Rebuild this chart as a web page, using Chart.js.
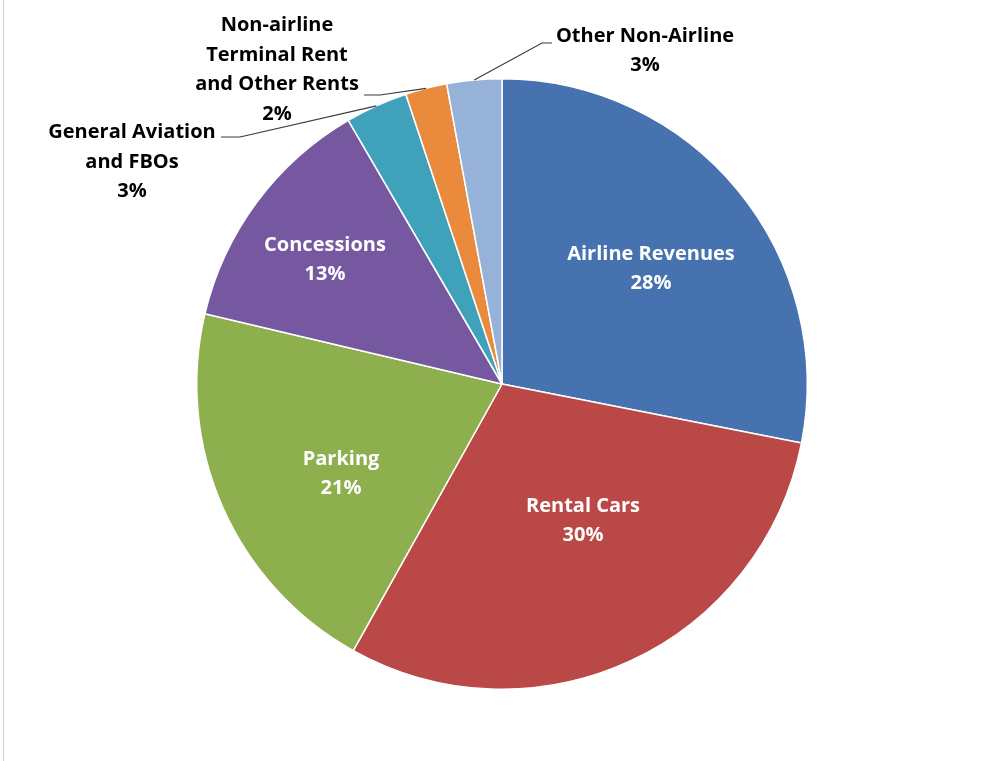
<!DOCTYPE html>
<html>
<head>
<meta charset="utf-8">
<script src="https://cdn.jsdelivr.net/npm/chart.js@4"></script>
<style>
  html, body { margin: 0; padding: 0; background: #ffffff; }
  #wrap { position: relative; width: 998px; height: 761px; }
  #frame { position: absolute; left: 3px; top: 0; width: 0; height: 761px; border-left: 1px solid #cfcfcf; }
  canvas { position: absolute; left: 0; top: 0; }
</style>
</head>
<body>
<div id="wrap">
<canvas id="c" width="998" height="761"></canvas>
<div id="frame"></div>
</div>
<script>
// ---- data ----
const categories = [
  "Airline Revenues",
  "Rental Cars",
  "Parking",
  "Concessions",
  "General Aviation and FBOs",
  "Non-airline Terminal Rent and Other Rents",
  "Other Non-Airline"
];
const shares = [28.1, 30.0, 20.6, 12.9, 3.3, 2.2, 2.9];
const labelLines = [
  ["Airline Revenues"],
  ["Rental Cars"],
  ["Parking"],
  ["Concessions"],
  ["General Aviation", "and FBOs"],
  ["Non-airline", "Terminal Rent", "and Other Rents"],
  ["Other Non-Airline"]
];
const sliceColors = ["#4672B0", "#BA4846", "#8EAF4E", "#7558A0", "#3FA2BA", "#E98A3C", "#97B2D9"];

// ---- label layout (text placement only, offsets from pie centre) ----
const labelLayout = [
  { inside: true,  x: 149,  y: -115, color: "#ffffff" },
  { inside: true,  x: 81,   y: 137,  color: "#ffffff" },
  { inside: true,  x: -161, y: 90,   color: "#ffffff" },
  { inside: true,  x: -177, y: -124, color: "#ffffff" },
  { inside: false, x: -370, y: -222, color: "#000000", elbowX: -262, elbowY: -247, tail: -19 },
  { inside: false, x: -225, y: -314, color: "#000000", elbowX: -122, elbowY: -289, tail: -16 },
  { inside: false, x: 143,  y: -333, color: "#000000", elbowX: 40,   elbowY: -341, tail: 10 }
];

const FONT = "bold 20px 'Open Sans', 'Liberation Sans', sans-serif";
const LINE_H = 29.5;

const labelPlugin = {
  id: "pieLabels",
  afterDatasetsDraw(chart) {
    const ctx = chart.ctx;
    const meta = chart.getDatasetMeta(0);
    const total = shares.reduce((a, b) => a + b, 0);
    ctx.save();
    ctx.font = FONT;
    ctx.textAlign = "center";
    ctx.textBaseline = "middle";
    meta.data.forEach((arc, i) => {
      const p = arc.getProps(["x", "y", "startAngle", "endAngle", "outerRadius"], true);
      const L = labelLayout[i];
      const pct = Math.round(shares[i] / total * 100) + "%";
      const lines = labelLines[i].concat([pct]);
      const cx = p.x + L.x, cy = p.y + L.y;
      if (!L.inside) {
        const mid = (p.startAngle + p.endAngle) / 2;
        const ex = p.x + Math.cos(mid) * p.outerRadius;
        const ey = p.y + Math.sin(mid) * p.outerRadius;
        ctx.strokeStyle = "#3a3a3a";
        ctx.lineWidth = 1.2;
        ctx.beginPath();
        const elx = p.x + L.elbowX, ely = p.y + L.elbowY;
        ctx.moveTo(ex, ey);
        ctx.lineTo(elx, ely);
        ctx.lineTo(elx + L.tail, ely);
        ctx.stroke();
      }
      ctx.fillStyle = L.color;
      const top = cy - (lines.length - 1) * LINE_H / 2;
      lines.forEach((t, k) => ctx.fillText(t, cx, top + k * LINE_H));
    });
    ctx.restore();
  }
};

new Chart(document.getElementById("c"), {
  type: "pie",
  data: {
    labels: categories,
    datasets: [{
      data: shares,
      backgroundColor: sliceColors,
      borderColor: "#ffffff",
      borderWidth: 1.5
    }]
  },
  options: {
    responsive: false,
    animation: false,
    rotation: 0,
    layout: { padding: { top: 78, bottom: 71, left: 196, right: 190 } },
    plugins: {
      legend: { display: false },
      tooltip: { enabled: false }
    }
  },
  plugins: [labelPlugin]
});
</script>
</body>
</html>
